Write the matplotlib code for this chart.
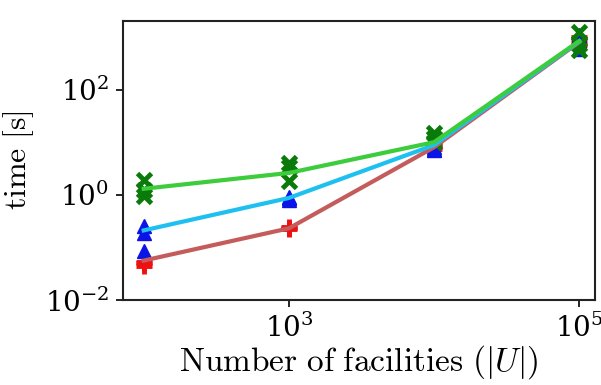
import numpy as np
import matplotlib.pyplot as plt

plt.rcParams['mathtext.fontset'] = 'cm'
plt.rcParams['font.family'] = 'serif'
plt.rcParams['font.serif'] = ['DejaVu Serif']

sizes = [1e2, 1e3, 1e4, 1e5]

# mean runtime per size (lines)
red_mean = [0.056, 0.23, 8.0, 800]
blue_mean = [0.21, 0.87, 8.8, 820]
green_mean = [1.3, 2.6, 10.0, 840]

# individual runs (markers)
red_runs = [[0.045, 0.05, 0.052], [0.22, 0.23, 0.24], [7.5, 8.0, 8.5], [700, 850, 1000]]
blue_runs = [[0.26, 0.19, 0.087], [0.78, 0.85, 0.9], [7.0, 7.5, 8.0], [600, 850, 1100]]
green_runs = [[1.9, 1.25, 0.95], [4.1, 3.3, 1.8], [15.0, 12.0, 10.0], [1250, 750, 560]]

fig = plt.figure(figsize=(6.01, 3.85), dpi=100)
ax = fig.add_axes([0.2047, 0.221, 0.785, 0.724])

def runs_xy(runs):
    xs, ys = [], []
    for s, r in zip(sizes, runs):
        xs += [s] * len(r)
        ys += r
    return xs, ys

ax.plot(sizes, red_mean, color='#c45c5c', lw=3, zorder=2)
ax.plot(sizes, blue_mean, color='#1ec0f0', lw=3, zorder=3)
ax.plot(sizes, green_mean, color='#3ccc3c', lw=3, zorder=4)

xs, ys = runs_xy(red_runs)
ax.plot(xs, ys, ls='none', marker='+', ms=11, mew=3.5, color='#ee1111', zorder=1)
xs, ys = runs_xy(blue_runs)
ax.plot(xs, ys, ls='none', marker='^', ms=10, color='#0a14e6', zorder=1)
xs, ys = runs_xy(green_runs)
ax.plot(xs, ys, ls='none', marker='x', ms=10, mew=3.5, color='#0a7a0a', zorder=1)

ax.set_xscale('log')
ax.set_yscale('log')
ax.set_xlim(72, 1.28e5)
ax.set_ylim(1e-2, 2000)
ax.set_xticks([1e3, 1e5])
ax.set_yticks([1e-2, 1e0, 1e2])
ax.minorticks_off()
ax.tick_params(labelsize=20, length=5, width=1.2, pad=5)
for sp in ax.spines.values():
    sp.set_linewidth(1.5)
    sp.set_color('#222222')

ax.set_xlabel(r'$\mathrm{Number\ of\ facilities}\ (|U|)$', fontsize=24, labelpad=0)
ax.set_ylabel(r'$\mathrm{time\ [s]}$', fontsize=23, labelpad=6)

fig.savefig('out.png', dpi=100)
